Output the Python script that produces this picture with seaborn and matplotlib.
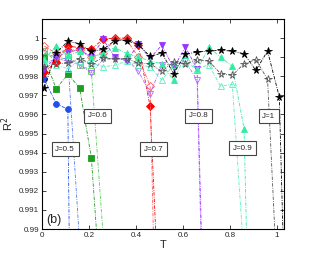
import matplotlib
matplotlib.use("Agg")
import matplotlib.pyplot as plt
import seaborn as sns
import numpy as np

sns.set_style("white")
plt.rcParams['font.family'] = ['Liberation Sans', 'DejaVu Sans']

T_grid = [0.01, 0.06, 0.11, 0.16, 0.21, 0.26, 0.31, 0.36, 0.41, 0.46, 0.51,
          0.56, 0.61, 0.66, 0.71, 0.76, 0.81, 0.86, 0.91, 0.96, 1.01, 1.06]

# J = 0.5 (circles)
r2_j05_filled = [0.99784, 0.99657, 0.99627, 0.94]
r2_j05_open = [0.9992, 0.9990, 0.9989, 0.9893]
# J = 0.6 (squares)
r2_j06_filled = [0.9990, 0.99735, 0.9981, 0.9974, 0.99373, 0.985]
r2_j06_open = [0.9993, 0.9988, 0.9990, 0.9986, 0.9983, 0.9897]
# J = 0.7 (diamonds)
r2_j07_filled = [0.99822, 0.99875, 0.99958, 0.9995, 0.99941, 0.99995, 1.0000,
                 1.0000, 0.99963, 0.99643, 0.9828]
r2_j07_open = [0.99958, 0.9992, 0.9994, 0.99936, 0.9990, 0.9992, 0.99993,
               0.99993, 0.9990, 0.9975, 0.970]
# J = 0.8 (down triangles)
r2_j08_filled = [0.9984, 0.9990, 0.99925, 0.9994, 0.9990, 0.99993, 0.9990,
                 0.9988, 0.99967, 0.99895, 0.99963, 0.99843, 0.99953, 0.9984, 0.975]
r2_j08_open = [0.9987, 0.9989, 0.9988, 0.9986, 0.99817, 0.9989, 0.9989, 0.9989,
               0.99828, 0.99709, 0.9986, 0.9986, 0.9988, 0.99779, 0.973]
# J = 0.9 (up triangles)
r2_j09_filled = [0.9989, 0.99958, 0.9991, 0.9993, 0.9990, 0.9992, 0.9995, 0.9992,
                 0.9990, 0.9988, 0.99866, 0.99779, 0.99909, 0.99831, 0.99952,
                 0.9990, 0.99853, 0.99526, 0.969]
r2_j09_open = [0.9988, 0.9986, 0.9984, 0.9988, 0.9987, 0.9985, 0.99857, 0.9988,
               0.9986, 0.9985, 0.9978, 0.9986, 0.9987, 0.9984, 0.9986, 0.99748,
               0.99758, 0.9885]
# J = 1 (stars)
r2_j10_filled = [0.99741, 0.99922, 0.99983, 0.99971, 0.9993, 0.99941, 0.99987,
                 0.99987, 0.99967, 0.99904, 0.99922, 0.99814, 0.99915, 0.99927,
                 0.99932, 0.99936, 0.99932, 0.99918, 0.99831, 0.99932, 0.99692, 0.974]
r2_j10_open = [0.9985, 0.99866, 0.99869, 0.99892, 0.99866, 0.99897, 0.9989,
               0.99892, 0.9987, 0.99866, 0.99826, 0.99875, 0.99866, 0.99883,
               0.9988, 0.99814, 0.99805, 0.99866, 0.99887, 0.99784, 0.985]

labels = ["J=0.5", "J=0.6", "J=0.7", "J=0.8", "J=0.9", "J=1"]
label_T = [0.098, 0.236, 0.476, 0.668, 0.855, 0.966]
label_R2 = [0.99418, 0.99593, 0.99419, 0.99593, 0.99423, 0.99591]

series = [
    (r2_j05_filled, '#1f4fe8', 'o', True, 4.2),
    (r2_j05_open, '#5577ee', 'o', False, 4.2),
    (r2_j06_filled, '#1e9e1e', 's', True, 3.8),
    (r2_j06_open, '#55cc55', 's', False, 3.8),
    (r2_j07_filled, '#ff0000', 'D', True, 3.6),
    (r2_j07_open, '#ff5555', 'D', False, 3.6),
    (r2_j08_filled, '#9933ff', 'v', True, 4.4),
    (r2_j08_open, '#aa66ff', 'v', False, 4.4),
    (r2_j09_filled, '#33eca4', '^', True, 4.4),
    (r2_j09_open, '#55eebb', '^', False, 4.4),
    (r2_j10_filled, '#000000', '*', True, 5.6),
    (r2_j10_open, '#555555', '*', False, 5.6),
]

fig = plt.figure(figsize=(3.14, 2.58), dpi=100)
ax = fig.add_axes([42/314, 29/258, 242/314, 210/258])

for vals, col, mk, filled, ms in series:
    tt = T_grid[:len(vals)]
    sns.lineplot(x=tt, y=vals, ax=ax, color=col, linestyle=(0, (4, 1.5, 1, 1.5)),
                 linewidth=0.6, marker=mk, markersize=ms, markeredgewidth=0.6,
                 markerfacecolor=col if filled else 'none',
                 markeredgecolor=col, sort=False, estimator=None)

for lab, tx, ty in zip(labels, label_T, label_R2):
    ax.text(tx, ty, lab, ha='center', va='center', fontsize=5.8,
            bbox=dict(boxstyle='square,pad=0.45', fc='white', ec='#444444', lw=0.8))

ax.text(0.052, 0.99047, "(b)", ha='center', va='center', fontsize=9)

ax.set_xlim(0, 1.03)
ax.set_ylim(0.99, 1.001)
ax.set_xticks([0, 0.2, 0.4, 0.6, 0.8, 1])
ax.set_xticklabels(["0", "0.2", "0.4", "0.6", "0.8", "1"])
ax.set_yticks([0.99, 0.991, 0.992, 0.993, 0.994, 0.995, 0.996, 0.997, 0.998, 0.999, 1.0])
ax.set_yticklabels(["0.99", "0.991", "0.992", "0.993", "0.994", "0.995", "0.996",
                    "0.997", "0.998", "0.999", "1"])
ax.tick_params(direction='in', length=3, width=0.6, labelsize=5.8, pad=2,
               top=True, right=True, bottom=True, left=True)
for s in ax.spines.values():
    s.set_linewidth(0.8)
    s.set_color('black')
ax.set_xlabel("T", fontsize=8, labelpad=1)
ax.set_ylabel("R$^2$", fontsize=8, labelpad=2)

fig.savefig("out.png", dpi=100)
